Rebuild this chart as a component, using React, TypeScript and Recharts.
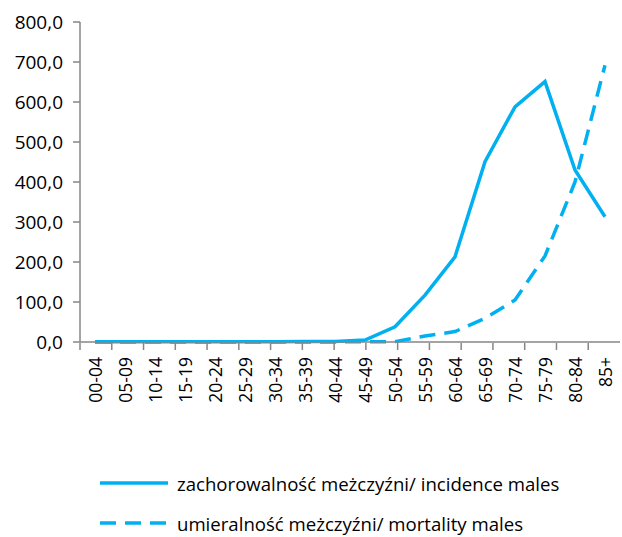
import { LineChart, Line, XAxis, YAxis, Legend } from "recharts"

// grupy wiekowe
const ageGroups = [
  "00-04", "05-09", "10-14", "15-19", "20-24", "25-29", "30-34", "35-39", "40-44",
  "45-49", "50-54", "55-59", "60-64", "65-69", "70-74", "75-79", "80-84", "85+",
]

// zachorowalność / incidence
const incidence = [0.5, 0.5, 0.5, 0.5, 0.5, 0.5, 0.8, 1, 1.5, 5, 38, 117, 213, 451, 588, 651, 430, 313]

// umieralność / mortality
const mortality = [0, 0, 0, 0, 0, 0, 0, 0, 0.3, 0.5, 1, 15, 26, 59, 105, 215, 400, 692]

const yTicks = [0, 100, 200, 300, 400, 500, 600, 700, 800]
const boundaryTicks = Array.from({ length: ageGroups.length + 1 }, (_, i) => i)

const incidenceLabel = "zachorowalność meżczyźni/ incidence males"
const mortalityLabel = "umieralność meżczyźni/ mortality males"

const data = ageGroups.map((age, i) => ({
  age,
  incidence: incidence[i],
  mortality: mortality[i],
}))

const BLUE = "#00B0F0"
const AXIS = "#868686"
const FONT = "'Open Sans', sans-serif"

function AgeTick({ x, y, payload }: any) {
  const ty = y + 8
  return (
    <text
      x={x}
      y={ty}
      transform={`rotate(-90 ${x} ${ty})`}
      textAnchor="end"
      dominantBaseline="central"
      fontSize={17.5}
      fontFamily={FONT}
      fill="#000"
    >
      {payload.value}
    </text>
  )
}

function LegendBox() {
  const rows = [
    { label: incidenceLabel, dash: undefined, top: 470 },
    { label: mortalityLabel, dash: "16 9", top: 510 },
  ]
  return (
    <div style={{ position: "relative", width: 622, height: 537 }}>
      {rows.map((r) => (
        <div
          key={r.label}
          style={{
            position: "absolute",
            left: 100,
            top: r.top,
            height: 26,
            display: "flex",
            alignItems: "center",
            whiteSpace: "nowrap",
            fontFamily: FONT,
            fontSize: 18.6,
            color: "#000",
          }}
        >
          <svg width={68} height={8} style={{ marginRight: 9 }}>
            <line x1={0} y1={4} x2={68} y2={4} stroke={BLUE} strokeWidth={3.5} strokeDasharray={r.dash} />
          </svg>
          {r.label}
        </div>
      ))}
    </div>
  )
}

export default function App() {
  return (
    <div style={{ position: "absolute", left: 0, top: 0, width: 622, height: 537, overflow: "hidden", background: "#fff" }}>
      <LineChart width={622} height={537} data={data} margin={{ top: 22, right: 2, left: 0, bottom: 193 }}>
        <XAxis
          xAxisId="b"
          type="number"
          domain={[0, ageGroups.length]}
          ticks={boundaryTicks}
          tick={() => <g />}
          axisLine={false}
          tickLine={{ stroke: AXIS, strokeWidth: 1.5 }}
          tickSize={7}
          height={1}
        />
        <XAxis
          dataKey="age"
          scale="band"
          interval={0}
          tick={<AgeTick />}
          tickLine={false}
          axisLine={{ stroke: AXIS, strokeWidth: 1.5 }}
          tickSize={7}
          tickMargin={0}
          height={1}
        />
        <YAxis
          domain={[0, 800]}
          ticks={yTicks}
          tickFormatter={(v: number) => v.toFixed(1).replace(".", ",")}
          width={80}
          tickSize={7}
          tickMargin={10}
          axisLine={{ stroke: AXIS, strokeWidth: 1.5 }}
          tickLine={{ stroke: AXIS, strokeWidth: 1.5 }}
          tick={{ fontSize: 19, fontFamily: FONT, fill: "#000" }}
        />
        <Legend
          layout="vertical"
          align="center"
          verticalAlign="middle"
          wrapperStyle={{ left: 0, top: 0, width: 622, height: 537, pointerEvents: "none" }}
          content={() => <LegendBox />}
        />
        <Line
          dataKey="incidence"
          name={incidenceLabel}
          stroke={BLUE}
          strokeWidth={3.5}
          dot={false}
          isAnimationActive={false}
        />
        <Line
          dataKey="mortality"
          name={mortalityLabel}
          stroke={BLUE}
          strokeWidth={3.5}
          strokeDasharray="16 9"
          dot={false}
          isAnimationActive={false}
        />
      </LineChart>
    </div>
  )
}
